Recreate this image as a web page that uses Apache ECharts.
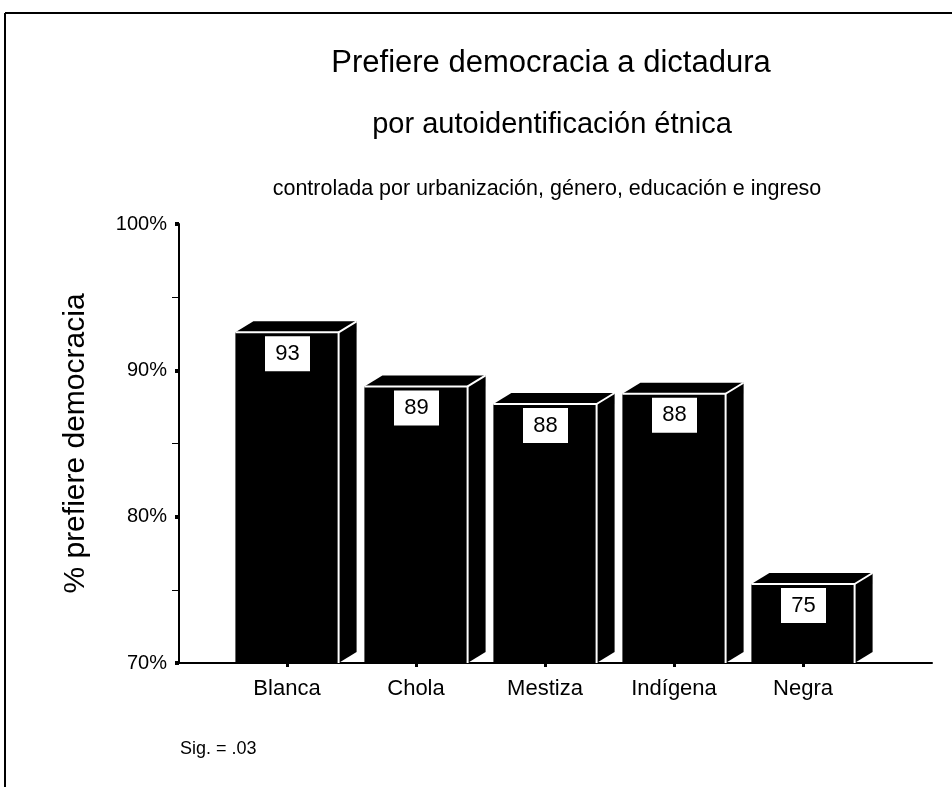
<!DOCTYPE html>
<html>
<head>
<meta charset="utf-8">
<script src="https://cdn.jsdelivr.net/npm/echarts@6/dist/echarts.min.js"></script>
<style>
html,body{margin:0;padding:0;background:#fff;}
#chart{width:952px;height:787px;}
</style>
</head>
<body>
<div id="chart"></div>
<script>
const categories = ['Blanca', 'Chola', 'Mestiza', 'Indígena', 'Negra'];
const values = [92.6, 88.9, 87.7, 88.4, 75.4];
const yTicks = [70, 80, 90, 100];
const titleText = 'Prefiere democracia a dictadura';
const subtitleText = 'por autoidentificación étnica';
const noteText = 'controlada por urbanización, género, educación e ingreso';
const yName = '% prefiere democracia';
const sigText = 'Sig. = .03';

const FONT = '"Liberation Sans", Arial, sans-serif';
const chart = echarts.init(document.getElementById('chart'), null, {renderer: 'canvas'});

const DX = 18, DY = -11;

function renderBar(params, api) {
  const idx = api.value(0);
  const val = api.value(1);
  const top = api.coord([idx, val]);
  const base = api.coord([idx, yTicks[0]]);
  const band = api.size([1, 0])[0];
  const w = band * 0.8;
  const x0 = top[0] - w / 2, x1 = top[0] + w / 2;
  const yt = top[1], yb = base[1];
  const label = String(Math.round(val));
  return {
    type: 'group',
    children: [
      {type: 'polygon', shape: {points: [[x1, yt], [x1 + DX, yt + DY], [x1 + DX, yb + DY], [x1, yb]]}, style: {fill: '#000'}},
      {type: 'polygon', shape: {points: [[x0, yt], [x0 + DX, yt + DY], [x1 + DX, yt + DY], [x1, yt]]}, style: {fill: '#000'}},
      {type: 'rect', shape: {x: x0, y: yt, width: w, height: yb - yt}, style: {fill: '#000'}},
      {type: 'polyline', shape: {points: [[x0, yt], [x1, yt], [x1, yb]]}, style: {stroke: '#fff', lineWidth: 2, fill: null}},
      {type: 'line', shape: {x1: x1, y1: yt, x2: x1 + DX, y2: yt + DY}, style: {stroke: '#fff', lineWidth: 2}},
      {type: 'rect', shape: {x: top[0] - 22, y: yt + 4, width: 45, height: 35}, style: {fill: '#fff'}},
      {type: 'text', style: {x: top[0] + 0.5, y: yt + 21.5, text: label, fill: '#000', font: '22px ' + FONT, align: 'center', verticalAlign: 'middle'}}
    ]
  };
}

const option = {
  backgroundColor: '#fff',
  animation: false,
  title: [
    {text: titleText, left: 546, top: 43, textAlign: 'center', textStyle: {fontFamily: FONT, fontSize: 31, fontWeight: 'normal', color: '#000'}},
    {text: subtitleText, left: 547, top: 105, textAlign: 'center', textStyle: {fontFamily: FONT, fontSize: 29, fontWeight: 'normal', color: '#000'}},
    {text: noteText, left: 542, top: 173, textAlign: 'center', textStyle: {fontFamily: FONT, fontSize: 21.5, fontWeight: 'normal', color: '#000'}},
    {text: sigText, left: 175, top: 735, textStyle: {fontFamily: FONT, fontSize: 18, fontWeight: 'normal', color: '#000'}}
  ],
  grid: [
    {left: 179, top: 224, width: 753, height: 439, containLabel: false},
    {left: 222.5, top: 224, width: 645, height: 439, containLabel: false}
  ],
  xAxis: [
    {gridIndex: 0, type: 'value', min: 0, max: 1, axisLine: {show: true, lineStyle: {color: '#000', width: 2}}, axisTick: {show: false}, axisLabel: {show: false}, splitLine: {show: false}},
    {gridIndex: 1, type: 'category', data: categories, axisLine: {show: false}, axisTick: {show: true, alignWithLabel: true, length: 4, lineStyle: {color: '#000', width: 3}}, axisLabel: {margin: 15, fontFamily: FONT, fontSize: 22, color: '#000'}, splitLine: {show: false}}
  ],
  yAxis: [
    {gridIndex: 0, type: 'value', min: 70, max: 100, interval: 10,
      name: yName, nameLocation: 'middle', nameGap: 88, nameRotate: 90,
      nameTextStyle: {fontFamily: FONT, fontSize: 30, color: '#000'},
      axisLine: {show: true, lineStyle: {color: '#000', width: 2}},
      axisTick: {show: true, length: 4, lineStyle: {color: '#000', width: 4}},
      minorTick: {show: true, splitNumber: 2, length: 7, lineStyle: {color: '#000', width: 1}},
      axisLabel: {margin: 12, fontFamily: FONT, fontSize: 20, color: '#000', formatter: v => v + '%'},
      splitLine: {show: false}},
    {gridIndex: 1, type: 'value', min: 70, max: 100, show: false}
  ],
  series: [{
    type: 'custom',
    xAxisIndex: 1,
    yAxisIndex: 1,
    renderItem: renderBar,
    clip: false,
    data: categories.map((c, i) => [i, values[i]]),
    encode: {x: 0, y: 1}
  }],
  graphic: [
    {type: 'line', shape: {x1: 5, y1: 13, x2: 952, y2: 13}, style: {stroke: '#000', lineWidth: 2}},
    {type: 'line', shape: {x1: 5, y1: 13, x2: 5, y2: 787}, style: {stroke: '#000', lineWidth: 2}}
  ]
};
chart.setOption(option);
</script>
</body>
</html>
